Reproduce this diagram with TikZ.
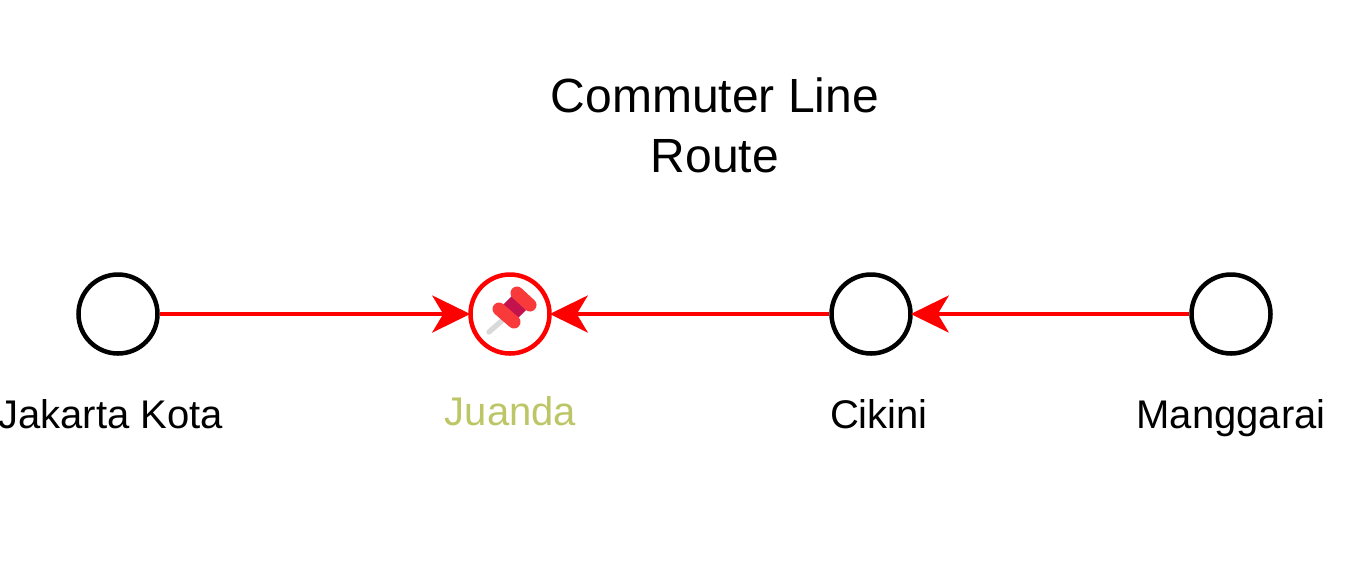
\documentclass[tikz,border=0pt]{standalone}
\usepackage{fontspec}
\setmainfont{Liberation Sans}
\usetikzlibrary{arrows.meta}
\definecolor{pincap}{HTML}{F93A3A}
\definecolor{pinmid}{HTML}{C2134F}
\definecolor{pinneedle}{HTML}{D9D9D9}
\definecolor{stationmark}{HTML}{BDC667}
\tikzset{
  station/.style={circle,draw=black,line width=2.25pt,minimum size=39.5pt,inner sep=0pt,fill=white},
  route/.style={draw=red,line width=2pt,shorten >=-1pt,-{Stealth[length=19pt,width=18.5pt,inset=5.5pt]}},
  stationname/.style={font=\fontsize{20}{24}\selectfont,inner sep=0pt,anchor=base}
}
\begin{document}
\begin{tikzpicture}[x=0.5pt,y=0.5pt]
      \useasboundingbox (0,0) rectangle (1365,-586);

      \node[station] (kota) at (118,-314) {};
      \node[station,draw=red] (juanda) at (510,-314) {};
      \node[station] (cikini) at (871,-314) {};
      \node[station] (manggarai) at (1231,-314) {};

      \draw[route] (kota) -- (juanda);
      \draw[route,yshift=0.5pt] (cikini) -- (juanda);
      \draw[route] (manggarai) -- (cikini);

      % pin
      \draw[pinneedle,line width=2.6pt,line cap=round] (506,-317)--(489,-332);
      \fill[pinmid,rotate around={45:(514,-308)}] (505,-318) rectangle (523,-298);
      \draw[pincap,line width=6.5pt,line cap=round] (499,-309)--(514,-322);
      \draw[pincap,line width=6.5pt,line cap=round] (517,-293)--(530,-305);

      \node[stationname] (kotaname) at (110.5,-428) {Jakarta Kota};
      \node[stationname,text=stationmark] (juandaname) at (510.5,-425) {Juanda};
      \node[stationname] (cikininame) at (879,-428) {Cikini};
      \node[stationname] (manggarainame) at (1231,-428) {Manggarai};

      \node[font=\fontsize{24}{30}\selectfont,align=center,inner sep=0pt] (title) at (715,-125) {Commuter Line\\Route};
\end{tikzpicture}
\end{document}
